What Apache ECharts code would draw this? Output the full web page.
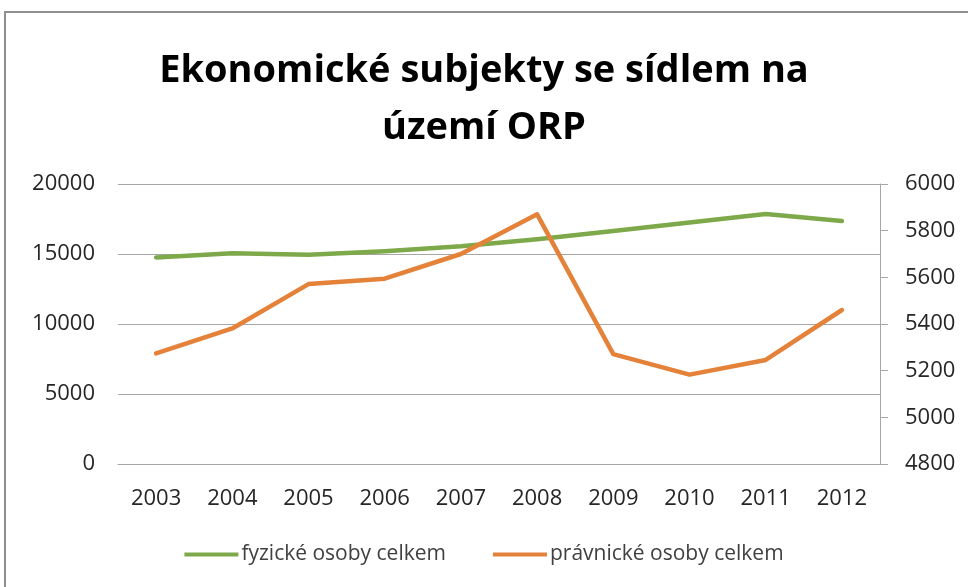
<!DOCTYPE html>
<html>
<head>
<meta charset="utf-8">
<script src="https://cdn.jsdelivr.net/npm/echarts@6/dist/echarts.min.js"></script>
<style>
  html, body { margin: 0; padding: 0; background: #fff; }
  #chart { width: 968px; height: 587px; }
</style>
</head>
<body>
<div id="chart"></div>
<script>
// data
var years = ["2003", "2004", "2005", "2006", "2007", "2008", "2009", "2010", "2011", "2012"];
var fyzicke = [14750, 15050, 14950, 15200, 15550, 16050, 16650, 17250, 17850, 17350];
var pravnicke = [5274, 5381, 5571, 5594, 5700, 5870, 5271, 5183, 5246, 5460];
var seriesNames = ["fyzické osoby celkem", "právnické osoby celkem"];
var titleText = "Ekonomické subjekty se sídlem na\núzemí ORP";

var font = "'Open Sans', sans-serif";
var plain = function (v) { return String(v); };
var chart = echarts.init(document.getElementById("chart"));
chart.setOption({
  animation: false,
  backgroundColor: "#fff",
  graphic: [{
    type: "rect",
    shape: { x: 5, y: 12, width: 1000, height: 620 },
    style: { fill: "none", stroke: "#8f8f8f", lineWidth: 2 }
  }],
  title: {
    text: titleText,
    left: "center",
    top: 38,
    textStyle: {
      fontFamily: font,
      fontWeight: "bold",
      fontSize: 38,
      lineHeight: 57,
      color: "#000"
    }
  },
  legend: {
    data: seriesNames,
    top: 539,
    left: "center",
    itemWidth: 54,
    itemHeight: 4,
    itemGap: 47,
    icon: "rect",
    textStyle: { fontFamily: font, fontSize: 21, color: "#404040", padding: [0, 0, 0, -2] }
  },
  grid: { left: 118, right: 88, top: 184, bottom: 123 },
  xAxis: {
    type: "category",
    data: years,
    boundaryGap: true,
    axisLine: { lineStyle: { color: "#a6a6a6", width: 1 } },
    axisTick: { show: false },
    axisLabel: { fontFamily: font, fontSize: 22, color: "#262626", margin: 24 }
  },
  yAxis: [{
    type: "value",
    min: 0,
    max: 20000,
    interval: 5000,
    axisLine: { show: false },
    axisTick: { show: false },
    splitLine: { lineStyle: { color: "#a6a6a6", width: 1 } },
    axisLabel: { fontFamily: font, fontSize: 22, color: "#262626", margin: 23, formatter: plain }
  }, {
    type: "value",
    min: 4800,
    max: 6000,
    interval: 200,
    position: "right",
    axisLine: { show: true, lineStyle: { color: "#a6a6a6", width: 1 } },
    axisTick: { show: true, length: 8, lineStyle: { color: "#a6a6a6" } },
    splitLine: { show: false },
    axisLabel: { fontFamily: font, fontSize: 22, color: "#262626", margin: 25, formatter: plain }
  }],
  series: [{
    name: seriesNames[0],
    type: "line",
    yAxisIndex: 0,
    data: fyzicke,
    showSymbol: false,
    color: "#7ea94a",
    lineStyle: { width: 4.5, cap: "round", join: "round" }
  }, {
    name: seriesNames[1],
    type: "line",
    yAxisIndex: 1,
    data: pravnicke,
    showSymbol: false,
    color: "#e4823a",
    lineStyle: { width: 4.5, cap: "round", join: "round" }
  }]
});
</script>
</body>
</html>
